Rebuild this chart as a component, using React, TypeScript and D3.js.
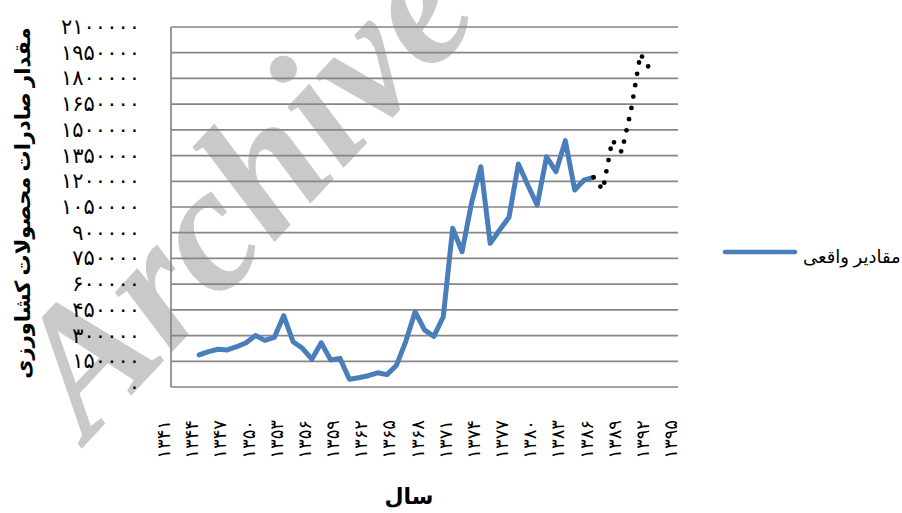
import React from "react";
import * as d3 from "d3";

const actualYears = [
  1344, 1345, 1346, 1347, 1348, 1349, 1350, 1351, 1352, 1353, 1354, 1355, 1356, 1357, 1358,
  1359, 1360, 1361, 1362, 1363, 1364, 1365, 1366, 1367, 1368, 1369, 1370, 1371, 1372, 1373,
  1374, 1375, 1376, 1377, 1378, 1379, 1380, 1381, 1382, 1383, 1384, 1385, 1386,
];
const actualValues = [
  187000, 206000, 220000, 216000, 235000, 258000, 300000, 272000, 289000, 416000, 264000,
  226000, 162000, 258000, 158000, 167000, 45000, 54000, 66000, 83000, 72000, 125000, 265000,
  439000, 333000, 295000, 410000, 926000, 789000, 1071000, 1285000, 838000, 916000, 990000,
  1301000, 1178000, 1062000, 1343000, 1256000, 1437000, 1149000, 1207000, 1223000,
];
const forecastYears = [1386, 1387, 1388, 1389, 1390, 1391, 1392];
const forecastValues = [1223000, 1150000, 1440000, 1371000, 1615000, 1942000, 1855000];

const xTickYears = [
  1341, 1344, 1347, 1350, 1353, 1356, 1359, 1362, 1365, 1368, 1371, 1374, 1377, 1380, 1383,
  1386, 1389, 1392, 1395,
];
const yTickValues = [
  0, 150000, 300000, 450000, 600000, 750000, 900000, 1050000, 1200000, 1350000, 1500000,
  1650000, 1800000, 1950000, 2100000,
];

const yTitle = "مقدار صادرات محصولات کشاورزی";
const xTitle = "سال";
const legendLabel = "مقادیر واقعی";
const watermark = "Archive";

const faDigits = "۰۱۲۳۴۵۶۷۸۹";
const toFa = (n: number) => String(n).replace(/[0-9]/g, (d) => faDigits[+d]);

const W = 902;
const H = 513;
const left = 171;
const right = 678;
const top = 27;
const bottom = 387;

const FONT = "'Times New Roman', 'Liberation Serif', 'DejaVu Serif', 'DejaVu Sans', serif";
const FA_FONT = "'DejaVu Sans', 'Noto Sans', sans-serif";

export default function App() {
  const x = d3.scaleLinear().domain([1341, 1395]).range([left, right]);
  const y = d3.scaleLinear().domain([0, 2100000]).range([bottom, top]);

  const line = d3
    .line<[number, number]>()
    .x((d) => x(d[0]))
    .y((d) => y(d[1]));

  const actualPts = actualYears.map((yr, i) => [yr, actualValues[i]] as [number, number]);
  const forecastPts = forecastYears.map((yr, i) => [yr, forecastValues[i]] as [number, number]);

  return (
    <svg
      width={W}
      height={H}
      style={{ position: "absolute", left: 0, top: 0, background: "#fff" }}
    >
      <rect x={0} y={0} width={W} height={H} fill="#fff" />
      {/* watermark */}
      <text
        transform="translate(88,442) rotate(-47)"
        fontFamily={FONT}
        fontStyle="italic"
        fontWeight="bold"
        fontSize={180}
        fill="#c9c9c9"
      >
        {watermark}
      </text>

      {/* gridlines */}
      {yTickValues.map((v) => (
        <line
          key={v}
          x1={left}
          x2={right}
          y1={y(v)}
          y2={y(v)}
          stroke="#868686"
          strokeWidth={1.7}
        />
      ))}
      <line x1={left} x2={left} y1={top} y2={bottom} stroke="#868686" strokeWidth={1.7} />

      {/* y tick labels */}
      {yTickValues.map((v) => (
        <text
          key={"yl" + v}
          x={140}
          y={y(v) + 7}
          textAnchor="end"
          fontFamily={FA_FONT}
          fontSize={21}
          letterSpacing={13}
          fill="#000"
        >
          {toFa(v)}
        </text>
      ))}

      {/* x tick labels */}
      {xTickYears.map((yr) => (
        <text
          key={"xl" + yr}
          transform={`translate(${x(yr) - 1},420) rotate(-90)`}
          textAnchor="end"
          fontFamily={FA_FONT}
          fontSize={18}
          letterSpacing={4}
          fill="#000"
        >
          {toFa(yr)}
        </text>
      ))}

      {/* series */}
      <path
        d={line(actualPts) || ""}
        fill="none"
        stroke="#4a7ebb"
        strokeWidth={5}
        strokeLinejoin="round"
        strokeLinecap="round"
      />
      <path
        d={line(forecastPts) || ""}
        fill="none"
        stroke="#000"
        strokeWidth={4.8}
        strokeLinecap="round"
        strokeDasharray="0 11.5"
      />

      {/* axis titles */}
      <text
        transform="translate(30,203) rotate(-90)"
        textAnchor="middle"
        fontFamily={FONT}
        fontWeight="bold"
        fontSize={21}
        fill="#000"
      >
        {yTitle}
      </text>
      <text
        x={409}
        y={504}
        textAnchor="middle"
        fontFamily={FONT}
        fontWeight="bold"
        fontSize={22}
        fill="#000"
      >
        {xTitle}
      </text>

      {/* legend */}
      <line x1={725} x2={795} y1={252} y2={252} stroke="#4a7ebb" strokeWidth={4.5} strokeLinecap="round" />
      <text x={803} y={263} textAnchor="start" fontFamily={FONT} fontSize={18} fill="#000">
        {legendLabel}
      </text>
    </svg>
  );
}
